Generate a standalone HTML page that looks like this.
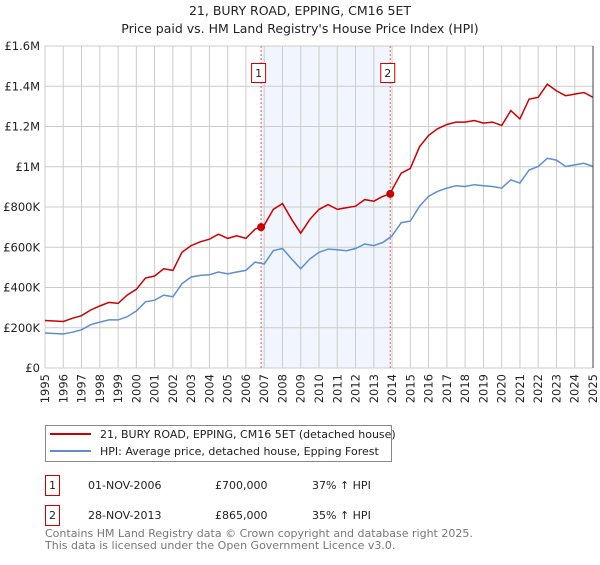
<!DOCTYPE html>
<html><head><meta charset="utf-8"><style>
body{margin:0;background:#fff;font-family:"Liberation Sans","DejaVu Sans",sans-serif;}
svg text{font-family:"DejaVu Sans","Liberation Sans",sans-serif;}
</style></head><body>
<svg width="600" height="560" xmlns="http://www.w3.org/2000/svg">
<text x="300" y="15" text-anchor="middle" font-size="12.5" fill="#222">21, BURY ROAD, EPPING, CM16 5ET</text>
<text x="300" y="33" text-anchor="middle" font-size="12.5" fill="#222">Price paid vs. HM Land Registry's House Price Index (HPI)</text>
<g id="plot"></g>
<g>
<rect x="45.5" y="425.5" width="346" height="36" fill="#fff" stroke="#888"/>
<line x1="50" y1="434" x2="91" y2="434" stroke="#cc0000" stroke-width="2"/>
<text x="100" y="438" font-size="11" fill="#222">21, BURY ROAD, EPPING, CM16 5ET (detached house)</text>
<line x1="50" y1="451" x2="91" y2="451" stroke="#5b8fd1" stroke-width="2"/>
<text x="100" y="455" font-size="11" fill="#222">HPI: Average price, detached house, Epping Forest</text>
</g>
<g font-size="11" fill="#222">
<rect x="45.5" y="475.5" width="14" height="20" fill="#fff" stroke="#cc0000"/>
<text x="52.5" y="489" text-anchor="middle">1</text>
<text x="88" y="489">01-NOV-2006</text><text x="215" y="489">£700,000</text><text x="312" y="489">37% ↑ HPI</text>
<rect x="45.5" y="505.5" width="14" height="20" fill="#fff" stroke="#cc0000"/>
<text x="52.5" y="519" text-anchor="middle">2</text>
<text x="88" y="519">28-NOV-2013</text><text x="215" y="519">£865,000</text><text x="312" y="519">35% ↑ HPI</text>
</g>
<text x="45" y="537" font-size="11" fill="#777">Contains HM Land Registry data © Crown copyright and database right 2025.</text>
<text x="45" y="549" font-size="11" fill="#777">This data is licensed under the Open Government Licence v3.0.</text>
</svg>
<script>
const hpiYears=[1995,1996,1996.5,1997,1997.5,1998,1998.5,1999,1999.5,2000,2000.5,2001,2001.5,2002,2002.5,2003,2003.5,2004,2004.5,2005,2005.5,2006,2006.5,2007,2007.5,2008,2008.5,2009,2009.5,2010,2010.5,2011,2011.5,2012,2012.5,2013,2013.5,2014,2014.5,2015,2015.5,2016,2016.5,2017,2017.5,2018,2018.5,2019,2019.5,2020,2020.5,2021,2021.5,2022,2022.5,2023,2023.5,2024,2024.5,2025];
const hpiValues=[174,169,178,190,215,228,239,239,255,283,329,337,362,354,419,452,460,463,477,468,477,485,526,517,583,594,542,493,542,575,591,588,583,594,616,608,624,657,722,730,804,853,878,894,906,902,911,906,902,894,935,919,984,1001,1042,1033,1001,1009,1017,1001];
const priceYears=[1995,1996,1996.5,1997,1997.5,1998,1998.5,1999,1999.5,2000,2000.5,2001,2001.5,2002,2002.5,2003,2003.5,2004,2004.5,2005,2005.5,2006,2006.5,2006.83,2007,2007.5,2008,2008.5,2009,2009.5,2010,2010.5,2011,2011.5,2012,2012.5,2013,2013.5,2013.9,2014,2014.5,2015,2015.5,2016,2016.5,2017,2017.5,2018,2018.5,2019,2019.5,2020,2020.5,2021,2021.5,2022,2022.5,2023,2023.5,2024,2024.5,2025];
const priceValues=[236,231,247,260,288,308,326,321,362,391,447,457,493,485,575,608,627,640,665,644,657,644,690,700,709,788,817,739,670,739,788,812,788,796,804,837,829,853,865,886,968,992,1099,1156,1189,1210,1222,1222,1230,1217,1222,1205,1279,1238,1336,1345,1410,1377,1353,1361,1369,1345];
const saleYears=[2006.83,2013.9];
const saleValues=[700,865];
const saleLabels=["1","2"];
const yTickValues=[0,200,400,600,800,1000,1200,1400,1600];
const yTickLabels=["£0","£200K","£400K","£600K","£800K","£1M","£1.2M","£1.4M","£1.6M"];
const xTickYears=[1995,1996,1997,1998,1999,2000,2001,2002,2003,2004,2005,2006,2007,2008,2009,2010,2011,2012,2013,2014,2015,2016,2017,2018,2019,2020,2021,2022,2023,2024,2025];

const X0=45,X1=593,Y0=368,Y1=46;
const xs=y=>X0+(y-1995)/30*(X1-X0);
const ys=v=>Y0-v/1600*(Y0-Y1);
const NS="http://www.w3.org/2000/svg";
const plot=document.getElementById('plot');
function mk(t,a){const e=document.createElementNS(NS,t);for(const k in a)e.setAttribute(k,a[k]);plot.appendChild(e);return e;}
let e=mk('rect',{x:xs(saleYears[0]),y:Y1,width:xs(saleYears[1])-xs(saleYears[0]),height:Y0-Y1,fill:'#eef3fc',opacity:0.8});


xTickYears.forEach(y=>{
 let l=mk('line',{x1:xs(y),x2:xs(y),y1:Y1,y2:Y0,stroke:'#cccccc','stroke-width':1});
 
 
 const tx=xs(y)+4, ty=Y0+6;
 let t=mk('text',{x:tx,y:ty,'text-anchor':'end','font-size':11.5,fill:'#222',transform:'rotate(-90 '+tx+' '+ty+')'});t.textContent=y;
 
 
});
yTickValues.forEach((v,i)=>{
 let l=mk('line',{x1:X0,x2:X1,y1:ys(v),y2:ys(v),stroke:'#cccccc','stroke-width':1});
 
 
 let t=mk('text',{x:X0-5,y:ys(v)+4,'text-anchor':'end','font-size':11.5,fill:'#222'});t.textContent=yTickLabels[i];
 
 
});
saleYears.forEach((y,i)=>{
 let l=mk('line',{x1:xs(y),x2:xs(y),y1:Y1,y2:Y0,stroke:'#e06060','stroke-width':1,'stroke-dasharray':'2,2'});
 
 
 let r=mk('rect',{x:xs(y)-9.5,y:63.5,width:14,height:19,fill:'#fff',stroke:'#cc0000'});
 
 
 let t=mk('text',{x:xs(y)-2.5,y:77,'text-anchor':'middle','font-size':11,fill:'#222'});t.textContent=saleLabels[i];
 
 
});
function path(xsArr,vs){return xsArr.map((y,i)=>(i?'L':'M')+xs(y).toFixed(1)+','+ys(vs[i]).toFixed(1)).join('');}
let h=mk('path',{d:path(hpiYears,hpiValues),fill:'none',stroke:'#5b8fd1','stroke-width':1.5});


let p=mk('path',{d:path(priceYears,priceValues),fill:'none',stroke:'#cc0000','stroke-width':1.5});


saleYears.forEach((y,i)=>{
 let c=mk('circle',{cx:xs(y),cy:ys(saleValues[i]),r:4,fill:'#cc0000'});
 
 
});
let ax=mk('line',{x1:X1,x2:X1,y1:Y1,y2:Y0,stroke:'#444','stroke-width':1});


</script>
</body></html>
